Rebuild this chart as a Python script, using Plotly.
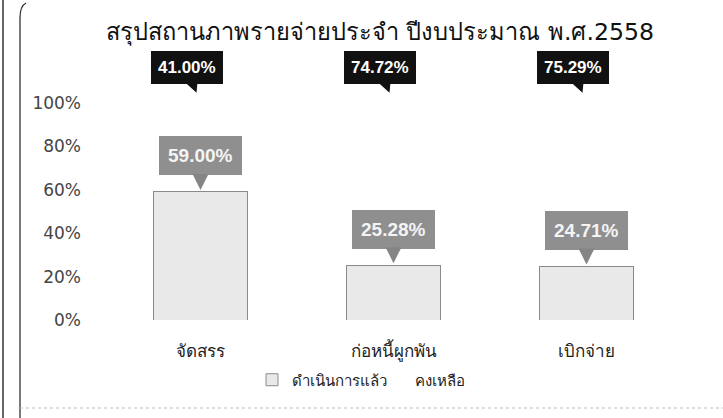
import plotly.graph_objects as go

categories = ["จัดสรร", "ก่อหนี้ผูกพัน", "เบิกจ่าย"]
done_pct = [59.00, 25.28, 24.71]
remain_pct = [41.00, 74.72, 75.29]
series_names = ["ดำเนินการแล้ว", "คงเหลือ"]
title_text = "สรุปสถานภาพรายจ่ายประจำ ปีงบประมาณ พ.ศ.2558"
y_ticks = [0, 20, 40, 60, 80, 100]
y_tick_labels = ["0%", "20%", "40%", "60%", "80%", "100%"]

W, H = 723, 418
ML, MR, MT, MB = 104, 40, 103, 98
PW, PH = W - ML - MR, H - MT - MB


def px_x(p):
    return (p - ML) / PW


def px_y(p):
    return (H - MB - p) / PH


fig = go.Figure()
fig.add_trace(go.Bar(
    x=categories, y=done_pct, name=series_names[0],
    marker=dict(color="#e9e9e9", line=dict(color="#8a8a8a", width=1)),
    hoverinfo="skip",
))
fig.add_trace(go.Bar(
    x=categories, y=remain_pct, name=series_names[1],
    marker=dict(color="rgba(255,255,255,0)", line=dict(width=0)),
    hoverinfo="skip",
))

annotations = []
for c, d, r in zip(categories, done_pct, remain_pct):
    annotations.append(dict(
        x=c, y=d, xref="x", yref="y", text=f"<b>{d:.2f}%</b>",
        showarrow=True, ax=0, ay=-36, arrowhead=2, arrowsize=1.6, arrowwidth=2,
        arrowcolor="#858585", standoff=2, bgcolor="#8f8f8f", bordercolor="#8f8f8f",
        borderpad=8, font=dict(family="Liberation Sans, Arial, sans-serif", size=19, color="#f4f4f4"),
    ))
    annotations.append(dict(
        x=c, y=d + r, xref="x", yref="y", text=f"<b>{r:.2f}%</b>",
        showarrow=True, ax=-14, ay=-36, arrowhead=2, arrowsize=1.6, arrowwidth=2,
        arrowcolor="#111", standoff=11, bgcolor="#111", bordercolor="#111",
        borderpad=6, font=dict(family="Liberation Sans, Arial, sans-serif", size=17, color="white"),
    ))

shapes = [
    dict(type="line", xref="paper", yref="paper", x0=px_x(3), x1=px_x(3),
         y0=px_y(0), y1=px_y(418), line=dict(color="#333", width=1.5)),
    dict(type="path", xref="paper", yref="paper",
         path=f"M {px_x(20)},{px_y(418)} L {px_x(20)},{px_y(18)} Q {px_x(20)},{px_y(6)} {px_x(26)},{px_y(3)}",
         line=dict(color="#333", width=1.3)),
    dict(type="line", xref="paper", yref="paper", x0=px_x(20), x1=px_x(723),
         y0=px_y(408), y1=px_y(408), line=dict(color="#bbb", width=1, dash="dot")),
]

fig.update_layout(
    width=W, height=H,
    margin=dict(l=ML, r=MR, t=MT, b=MB, autoexpand=False),
    paper_bgcolor="white", plot_bgcolor="white",
    barmode="stack", bargap=0.51,
    title=dict(text=title_text, x=380 / W, xanchor="center", y=1 - 32 / H, yanchor="middle",
               font=dict(family="Tahoma, DejaVu Sans, sans-serif", size=23.6, color="#111")),
    xaxis=dict(showgrid=False, showline=False, zeroline=False, ticks="",
               tickfont=dict(family="Tahoma, DejaVu Sans, sans-serif", size=17, color="#222"),
               ticklabelstandoff=19),
    yaxis=dict(range=[0, 100], tickvals=y_ticks, ticktext=y_tick_labels, showgrid=False,
               showline=False, zeroline=False, ticks="",
               tickfont=dict(family="DejaVu Sans, sans-serif", size=17, color="#444"),
               ticklabelstandoff=22),
    legend=dict(orientation="h", x=px_x(252), xanchor="left", y=px_y(380), yanchor="middle",
                font=dict(family="Tahoma, DejaVu Sans, sans-serif", size=15, color="#222"),
                itemwidth=30, entrywidth=78, entrywidthmode="pixels", traceorder="normal"),
    annotations=annotations,
    shapes=shapes,
)

fig.write_html("out.html", config={"displayModeBar": False},
               post_script="document.body.style.margin='0';")
